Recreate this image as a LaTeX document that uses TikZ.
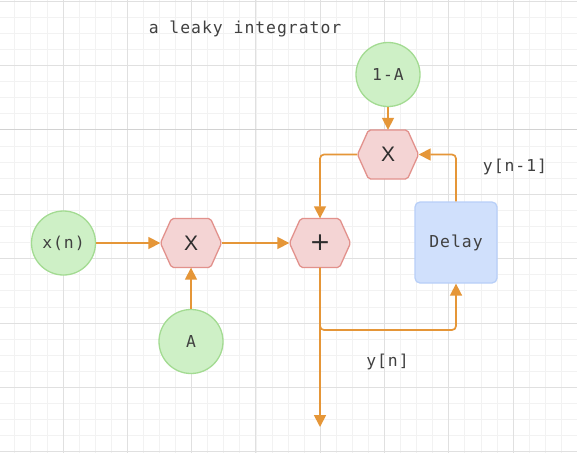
\documentclass[tikz,border=0pt]{standalone}
\usepackage{fontspec}
\usetikzlibrary{arrows.meta}
\newfontfamily\dmono{DejaVu Sans Mono}[LetterSpace=6]
\newfontfamily\dsans{Liberation Sans}
\newfontfamily\djv{DejaVu Sans}
\definecolor{gfill}{RGB}{206,240,198}
\definecolor{gline}{RGB}{163,219,146}
\definecolor{pfill}{RGB}{244,212,212}
\definecolor{pline}{RGB}{226,145,140}
\definecolor{bfill}{RGB}{208,224,252}
\definecolor{bline}{RGB}{184,207,248}
\definecolor{orng}{RGB}{229,150,56}
\definecolor{txt}{RGB}{64,64,64}
\definecolor{hextxt}{RGB}{45,45,45}
\definecolor{minorc}{RGB}{242,242,242}
\definecolor{majorc}{RGB}{224,224,224}
\definecolor{pagec}{RGB}{210,210,210}
\tikzset{
  minorgrid/.style={draw=minorc, line width=0.8pt},
  majorgrid/.style={draw=majorc, line width=0.9pt},
  pagegrid/.style={draw=pagec, line width=1pt},
  monotext/.style={font=\dmono\fontsize{16.4}{19}\selectfont, text=txt},
  circnode/.style={circle, minimum size=64pt, inner sep=0pt, fill=gfill, draw=gline, line width=1.3pt, monotext},
  hexshape/.style={fill=pfill, draw=pline, line width=1.3pt, rounded corners=2pt},
  hexlabel/.style={rectangle, minimum width=61pt, minimum height=49pt, inner sep=0pt, text=hextxt},
  delaybox/.style={rectangle, rounded corners=5pt, minimum width=82pt, minimum height=81pt, inner sep=0pt, fill=bfill, draw=bline, line width=1.3pt, monotext},
  freelabel/.style={monotext, inner sep=0pt},
  conn/.style={draw=orng, line width=1.7pt, -{Triangle[width=12pt,length=12pt]}},
}
\newcommand{\hexat}[5]{%
  \draw[hexshape] ({#2-30.5},#3) -- ({#2-19.5},{#3-24.5}) -- ({#2+19.5},{#3-24.5}) -- ({#2+30.5},#3) -- ({#2+19.5},{#3+24.5}) -- ({#2-19.5},{#3+24.5}) -- cycle;
  \node[hexlabel, font=#5] (#1) at (#2,#3) {#4};}
\begin{document}
\begin{tikzpicture}[x=1pt,y=-1pt]
\useasboundingbox (0,0) rectangle (577,453);
\fill[white] (0,0) rectangle (577,453);
% grid
\foreach \i in {0,...,36} {\draw[minorgrid] ({-1.3+16.075*\i},0) -- ({-1.3+16.075*\i},453);}
\foreach \j in {0,...,28} {\draw[minorgrid] (0,{1+16.1*\j}) -- (577,{1+16.1*\j});}
\foreach \i in {0,...,9} {\draw[majorgrid] ({-1.3+64.3*\i},0) -- ({-1.3+64.3*\i},453);}
\foreach \j in {0,...,7} {\draw[majorgrid] (0,{1+64.4*\j}) -- (577,{1+64.4*\j});}
\draw[pagegrid] (0,129.8) -- (577,129.8);
% title
\node[freelabel, anchor=base] (title) at (245,33) {a leaky integrator};
% nodes
\node[circnode] (onema) at (388,74.5) {1-A};
\node[circnode] (xn) at (63.5,243) {x(n)};
\node[circnode] (acirc) at (191,341.5) {A};
\hexat{mtop}{388}{154.5}{X}{\dsans\fontsize{21}{23}\selectfont}
\hexat{mleft}{191}{243}{X}{\dsans\fontsize{21}{23}\selectfont}
\hexat{plus}{320}{243}{+}{\djv\fontsize{25}{27}\selectfont}
\node[delaybox] (delay) at (456,242.5) {\raisebox{-1pt}{Delay}};
% labels
\node[freelabel, anchor=base] (lbl1) at (515,171) {y[n-1]};
\node[freelabel, anchor=base] (lbl2) at (387.5,366.5) {y[n]};
% connector end points
\coordinate (yn) at (320,330);
\coordinate (out) at (320,427);
% connectors
\draw[conn] (onema) -- (mtop);
\draw[conn, rounded corners=4pt] (mtop.west) -| (plus.north);
\draw[conn, rounded corners=4pt] (delay.north) |- (mtop.east);
\draw[conn] (xn) -- (mleft.west);
\draw[conn] (mleft.east) -- (plus.west);
\draw[conn] (acirc) -- (mleft.south);
\draw[conn, rounded corners=4pt] (plus.south) -- (yn) -| (delay.south);
\draw[conn] (plus.south) -- (out);
\end{tikzpicture}
\end{document}
